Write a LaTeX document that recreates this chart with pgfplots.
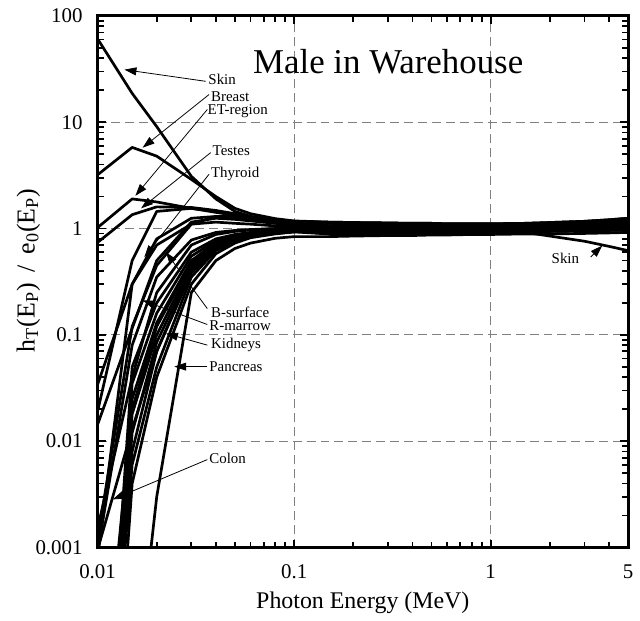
\documentclass[border=0pt]{standalone}
\usepackage{fontspec}
\setmainfont{Liberation Serif}
\usepackage{pgfplots}
\pgfplotsset{compat=1.18}
\usetikzlibrary{arrows.meta}
\begin{document}
\begin{tikzpicture}
\begin{axis}[
  scale only axis, width=266.5pt, height=267pt,
  xmode=log, ymode=log,
  xmin=0.01, xmax=5, ymin=0.001, ymax=100,
  xtick={0.01,0.1,1,5}, xticklabels={0.01,0.1,1,5},
  minor xtick={0.02,0.03,0.04,0.05,0.06,0.07,0.08,0.09,0.2,0.3,0.4,0.5,0.6,0.7,0.8,0.9,2,3,4},
  ytick={0.001,0.01,0.1,1,10,100}, yticklabels={0.001,0.01,0.1,1,10,100},
  minor ytick={0.002,0.003,0.004,0.005,0.006,0.007,0.008,0.009,0.02,0.03,0.04,0.05,0.06,0.07,0.08,0.09,0.2,0.3,0.4,0.5,0.6,0.7,0.8,0.9,2,3,4,5,6,7,8,9,20,30,40,50,60,70,80,90},
  /pgf/number format/assume math mode=true,
  ticklabel style={font=\fontsize{10.5}{12}\selectfont},
  xticklabel style={yshift=-5pt},
  yticklabel style={xshift=-4pt},
  major tick length=4pt, minor tick length=3pt,
  every tick/.style={black, line width=0.9pt},
  axis line style={line width=1.5pt},
  xmajorgrids, ymajorgrids,
  major grid style={gray, line width=0.6pt, dash pattern=on 4.5pt off 2.5pt},
  xlabel={Photon Energy (MeV)},
  xlabel style={font=\fontsize{12}{14}\selectfont, at={(axis description cs:0.5,-0.104)}, anchor=center},
  ylabel={h\textsubscript{T}(E\textsubscript{P})\ \,/\ \,e\textsubscript{0}(E\textsubscript{P})},
  ylabel style={font=\fontsize{13}{15}\selectfont, at={(axis description cs:-0.1304,0.5215)}, anchor=center},
  cycle list={{black, solid, mark=none}},
  every axis plot post/.append style={black, solid, mark=none, line width=1.35pt, line join=round},
]
% Skin
\addplot coordinates {(0.01,61)(0.015,18.7)(0.02,9.1)(0.03,3.1)(0.04,1.9)(0.05,1.45)(0.06,1.3)(0.08,1.15)(0.1,1.08)(0.15,1.03)(0.2,1.01)(0.3,1.00)(0.4,0.99)(0.5,0.98)(0.6,0.98)(0.8,0.97)(1,0.96)(1.5,0.92)(2,0.85)(3,0.76)(4,0.68)(5,0.62)};
% Breast
\addplot coordinates {(0.01,3.2)(0.015,5.8)(0.02,4.8)(0.03,2.9)(0.04,2.0)(0.05,1.55)(0.06,1.38)(0.08,1.24)(0.1,1.18)(0.15,1.15)(0.2,1.14)(0.3,1.13)(0.4,1.12)(0.5,1.12)(0.6,1.11)(0.8,1.11)(1,1.11)(1.5,1.12)(2,1.14)(3,1.17)(4,1.21)(5,1.25)};
% ET-region
\addplot coordinates {(0.01,1.02)(0.015,1.9)(0.02,1.78)(0.03,1.55)(0.04,1.42)(0.05,1.33)(0.06,1.27)(0.08,1.18)(0.1,1.13)(0.15,1.12)(0.2,1.10)(0.3,1.09)(0.4,1.08)(0.5,1.08)(0.6,1.08)(0.8,1.07)(1,1.07)(1.5,1.08)(2,1.09)(3,1.12)(4,1.15)(5,1.18)};
% Testes
\addplot coordinates {(0.01,0.74)(0.015,1.35)(0.02,1.6)(0.03,1.58)(0.04,1.48)(0.05,1.38)(0.06,1.3)(0.08,1.22)(0.1,1.17)(0.15,1.15)(0.2,1.14)(0.3,1.13)(0.4,1.12)(0.5,1.12)(0.6,1.11)(0.8,1.11)(1,1.11)(1.5,1.12)(2,1.14)(3,1.17)(4,1.21)(5,1.25)};
% Thyroid
\addplot coordinates {(0.01,0.019)(0.015,0.5)(0.02,1.45)(0.03,1.55)(0.04,1.45)(0.05,1.35)(0.06,1.28)(0.08,1.18)(0.1,1.12)(0.15,1.06)(0.2,1.05)(0.3,1.04)(0.4,1.04)(0.5,1.03)(0.6,1.03)(0.8,1.03)(1,1.03)(1.5,1.04)(2,1.06)(3,1.09)(4,1.12)(5,1.15)};
% organ
\addplot coordinates {(0.01,0.0143)(0.015,0.115)(0.02,0.5)(0.03,1.15)(0.04,1.25)(0.05,1.22)(0.06,1.18)(0.08,1.12)(0.1,1.08)(0.15,1.00)(0.2,1.00)(0.3,1.00)(0.4,1.00)(0.5,1.00)(0.6,1.00)(0.8,1.00)(1,1.00)(1.5,1.01)(2,1.02)(3,1.05)(4,1.08)(5,1.10)};
% organ
\addplot coordinates {(0.01,0.034)(0.015,0.3)(0.02,0.8)(0.03,1.25)(0.04,1.3)(0.05,1.25)(0.06,1.2)(0.08,1.13)(0.1,1.1)(0.15,1.06)(0.2,1.05)(0.3,1.04)(0.4,1.04)(0.5,1.03)(0.6,1.03)(0.8,1.03)(1,1.03)(1.5,1.04)(2,1.06)(3,1.09)(4,1.12)(5,1.15)};
% B-surface
\addplot coordinates {(0.01,0.0012)(0.015,0.12)(0.02,0.45)(0.03,1.1)(0.04,1.3)(0.05,1.3)(0.06,1.25)(0.08,1.15)(0.1,1.1)(0.15,1.12)(0.2,1.10)(0.3,1.09)(0.4,1.08)(0.5,1.08)(0.6,1.08)(0.8,1.07)(1,1.07)(1.5,1.08)(2,1.09)(3,1.12)(4,1.15)(5,1.18)};
% R-marrow
\addplot coordinates {(0.01,0.0009)(0.015,0.08)(0.02,0.35)(0.03,0.78)(0.04,0.92)(0.05,0.96)(0.06,0.98)(0.08,1.0)(0.1,1.0)(0.15,1.00)(0.2,1.00)(0.3,1.00)(0.4,1.00)(0.5,1.00)(0.6,1.00)(0.8,1.00)(1,1.00)(1.5,1.01)(2,1.02)(3,1.05)(4,1.08)(5,1.10)};
% Colon
\addplot coordinates {(0.01,0.00095)(0.015,0.013)(0.02,0.07)(0.03,0.4)(0.04,0.65)(0.05,0.78)(0.06,0.85)(0.08,0.92)(0.1,0.95)(0.15,0.97)(0.2,0.97)(0.3,0.97)(0.4,0.97)(0.5,0.97)(0.6,0.97)(0.8,0.97)(1,0.97)(1.5,0.98)(2,0.99)(3,1.01)(4,1.03)(5,1.05)};
% Kidneys
\addplot coordinates {(0.01,0.000001)(0.015,0.006)(0.02,0.05)(0.03,0.35)(0.04,0.62)(0.05,0.76)(0.06,0.84)(0.08,0.9)(0.1,0.93)(0.15,0.94)(0.2,0.94)(0.3,0.94)(0.4,0.94)(0.5,0.95)(0.6,0.95)(0.8,0.95)(1,0.95)(1.5,0.96)(2,0.97)(3,0.98)(4,0.99)(5,1.00)};
% Pancreas
\addplot coordinates {(0.01,0.00000001)(0.015,0.000026)(0.02,0.003)(0.03,0.25)(0.04,0.5)(0.05,0.65)(0.06,0.73)(0.08,0.81)(0.1,0.84)(0.15,0.84)(0.2,0.85)(0.3,0.86)(0.4,0.86)(0.5,0.87)(0.6,0.87)(0.8,0.88)(1,0.88)(1.5,0.89)(2,0.89)(3,0.90)(4,0.91)(5,0.92)};
% others
\addplot coordinates {(0.01,0.000001)(0.015,0.05)(0.02,0.2)(0.03,0.6)(0.04,0.8)(0.05,0.88)(0.06,0.92)(0.08,0.96)(0.1,0.98)(0.15,1.00)(0.2,1.00)(0.3,1.00)(0.4,1.00)(0.5,1.00)(0.6,1.00)(0.8,1.00)(1,1.00)(1.5,1.01)(2,1.02)(3,1.05)(4,1.08)(5,1.10)};
\addplot coordinates {(0.01,0.000001)(0.015,0.035)(0.02,0.16)(0.03,0.55)(0.04,0.77)(0.05,0.86)(0.06,0.9)(0.08,0.95)(0.1,0.97)(0.15,0.97)(0.2,0.97)(0.3,0.97)(0.4,0.97)(0.5,0.97)(0.6,0.97)(0.8,0.97)(1,0.97)(1.5,0.98)(2,0.99)(3,1.01)(4,1.03)(5,1.05)};
\addplot coordinates {(0.01,0.000001)(0.015,0.025)(0.02,0.13)(0.03,0.5)(0.04,0.74)(0.05,0.84)(0.06,0.89)(0.08,0.94)(0.1,0.96)(0.15,0.94)(0.2,0.94)(0.3,0.94)(0.4,0.94)(0.5,0.95)(0.6,0.95)(0.8,0.95)(1,0.95)(1.5,0.96)(2,0.97)(3,0.98)(4,0.99)(5,1.00)};
\addplot coordinates {(0.01,0.000001)(0.015,0.018)(0.02,0.1)(0.03,0.45)(0.04,0.7)(0.05,0.82)(0.06,0.88)(0.08,0.93)(0.1,0.96)(0.15,0.97)(0.2,0.97)(0.3,0.97)(0.4,0.97)(0.5,0.97)(0.6,0.97)(0.8,0.97)(1,0.97)(1.5,0.98)(2,0.99)(3,1.01)(4,1.03)(5,1.05)};
\addplot coordinates {(0.01,0.000001)(0.015,0.012)(0.02,0.085)(0.03,0.42)(0.04,0.68)(0.05,0.8)(0.06,0.86)(0.08,0.92)(0.1,0.95)(0.15,0.89)(0.2,0.90)(0.3,0.90)(0.4,0.91)(0.5,0.91)(0.6,0.92)(0.8,0.92)(1,0.92)(1.5,0.93)(2,0.94)(3,0.95)(4,0.96)(5,0.97)};
\addplot coordinates {(0.01,0.000001)(0.015,0.008)(0.02,0.07)(0.03,0.38)(0.04,0.65)(0.05,0.78)(0.06,0.85)(0.08,0.91)(0.1,0.94)(0.15,0.94)(0.2,0.94)(0.3,0.94)(0.4,0.94)(0.5,0.95)(0.6,0.95)(0.8,0.95)(1,0.95)(1.5,0.96)(2,0.97)(3,0.98)(4,0.99)(5,1.00)};
\addplot coordinates {(0.01,0.00001)(0.015,0.02)(0.02,0.12)(0.03,0.48)(0.04,0.73)(0.05,0.84)(0.06,0.9)(0.08,0.95)(0.1,0.98)(0.15,1.00)(0.2,1.00)(0.3,1.00)(0.4,1.00)(0.5,1.00)(0.6,1.00)(0.8,1.00)(1,1.00)(1.5,1.01)(2,1.02)(3,1.05)(4,1.08)(5,1.10)};
\addplot coordinates {(0.01,0.0008)(0.015,0.3)(0.02,0.7)(0.03,1.1)(0.04,1.15)(0.05,1.12)(0.06,1.1)(0.08,1.06)(0.1,1.04)(0.15,1.06)(0.2,1.05)(0.3,1.04)(0.4,1.04)(0.5,1.03)(0.6,1.03)(0.8,1.03)(1,1.03)(1.5,1.04)(2,1.06)(3,1.09)(4,1.12)(5,1.15)};
\addplot coordinates {(0.01,0.0000001)(0.015,0.004)(0.02,0.04)(0.03,0.3)(0.04,0.58)(0.05,0.73)(0.06,0.82)(0.08,0.89)(0.1,0.93)(0.15,0.89)(0.2,0.90)(0.3,0.90)(0.4,0.91)(0.5,0.91)(0.6,0.92)(0.8,0.92)(1,0.92)(1.5,0.93)(2,0.94)(3,0.95)(4,0.96)(5,0.97)};
\addplot coordinates {(0.01,0.0015)(0.015,0.04)(0.02,0.25)(0.03,0.7)(0.04,0.88)(0.05,0.94)(0.06,0.97)(0.08,1.0)(0.1,1.01)(0.15,0.97)(0.2,0.97)(0.3,0.97)(0.4,0.97)(0.5,0.97)(0.6,0.97)(0.8,0.97)(1,0.97)(1.5,0.98)(2,0.99)(3,1.01)(4,1.03)(5,1.05)};

% title and annotations
\node[font=\fontsize{17.5}{20}\selectfont] at (axis description cs:0.5478,0.9139) {Male in Warehouse};
\tikzset{lab/.style={anchor=west, inner sep=0pt, font=\fontsize{7.5}{9}\selectfont},
         arr/.style={-{Triangle[length=6pt,width=4pt]}, line width=0.4pt, black}}
\node[lab] at (axis description cs:0.2083,0.8801) {Skin};
\draw[arr] (axis description cs:0.2039,0.8770) -- (axis description cs:0.0507,0.8989);
\node[lab] at (axis description cs:0.2133,0.8489) {Breast};
\draw[arr] (axis description cs:0.2101,0.8521) -- (axis description cs:0.0850,0.7522);
\node[lab] at (axis description cs:0.2069,0.8208) {ET-region};
\draw[arr] (axis description cs:0.2069,0.8240) -- (axis description cs:0.0713,0.6616);
\node[lab] at (axis description cs:0.2163,0.7459) {Testes};
\draw[arr] (axis description cs:0.2133,0.7429) -- (axis description cs:0.0820,0.6380);
\node[lab] at (axis description cs:0.2133,0.7022) {Thyroid};
\draw[arr] (axis description cs:0.2101,0.7022) -- (axis description cs:0.0882,0.5463);
\node[lab] at (axis description cs:0.2133,0.4433) {B-surface};
\draw[arr] (axis description cs:0.2069,0.4494) -- (axis description cs:0.1289,0.5556);
\node[lab] at (axis description cs:0.2101,0.4170) {R-marrow};
\draw[arr] (axis description cs:0.2069,0.4195) -- (axis description cs:0.0850,0.4650);
\node[lab] at (axis description cs:0.2133,0.3807) {Kidneys};
\draw[arr] (axis description cs:0.2069,0.3807) -- (axis description cs:0.1289,0.4026);
\node[lab] at (axis description cs:0.2101,0.3403) {Pancreas};
\draw[arr] (axis description cs:0.2069,0.3403) -- (axis description cs:0.1445,0.3403);
\node[lab] at (axis description cs:0.2101,0.1685) {Colon};
\draw[arr] (axis description cs:0.2069,0.1654) -- (axis description cs:0.0287,0.0905);
\node[lab, anchor=center] at (axis description cs:0.8818,0.5431) {Skin};
\draw[arr] (axis description cs:0.9293,0.5463) -- (axis description cs:0.9512,0.5680);
\coordinate (bl) at (rel axis cs:0,0);
\end{axis}
\path (bl) ++(-49pt,-34.5pt) rectangle ++(320pt,309.5pt);
\end{tikzpicture}
\end{document}
